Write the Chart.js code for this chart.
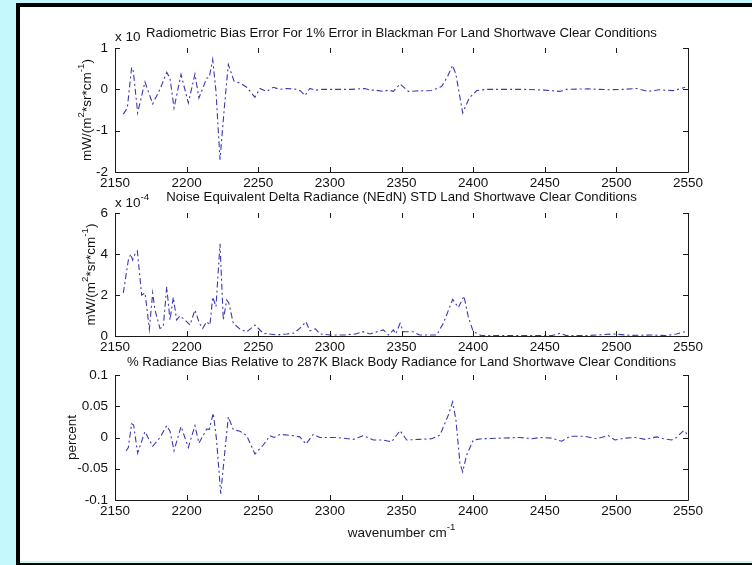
<!DOCTYPE html>
<html>
<head>
<meta charset="utf-8">
<script src="https://cdn.jsdelivr.net/npm/chart.js@4.4.1/dist/chart.umd.min.js"></script>
<style>
  html, body { margin: 0; padding: 0; }
  body { width: 752px; height: 565px; background: #c4f8fc; position: relative; overflow: hidden; }
  #frame { position: absolute; left: 16px; top: 3px; width: 736px; height: 558px; background: #fff;
           border-left: 4px solid #000; border-top: 4px solid #000; box-sizing: border-box; }
  #edgeB { position: absolute; left: 16px; top: 563px; width: 736px; height: 2px; background: #000; }
  #edgeL { position: absolute; left: 16px; top: 561px; width: 4px; height: 2px; background: #000; }
  canvas { position: absolute; left: 0; }
</style>
</head>
<body>
<div id="frame"></div>
<div id="edgeL"></div>
<div id="edgeB"></div>
<canvas id="bias" width="752" height="194" style="top:3px"></canvas>
<canvas id="nedn" width="752" height="193" style="top:168px"></canvas>
<canvas id="pct" width="752" height="230" style="top:330px"></canvas>
<script>
// x ticks shared by all three panels
const xTickLabels = ['2150', '2200', '2250', '2300', '2350', '2400', '2450', '2500', '2550'];

// panel 1: radiometric bias error (axis units, x 10^n)
const wnBias = [2155.8, 2158.6, 2161.6, 2162.8, 2165.8, 2170.9, 2176.3, 2181.4, 2186.1, 2188.4,
  2191.2, 2196.1, 2201.2, 2205.8, 2208.6, 2214.0, 2215.8, 2218.2, 2220.5, 2223.3,
  2226.3, 2229.1, 2233.1, 2237.3, 2241.9, 2247.7, 2251.2, 2255.9, 2260.5, 2265.0,
  2270, 2276.8, 2279.5, 2282.6, 2286.0, 2290.0, 2295, 2305, 2315, 2324.5,
  2328, 2332, 2337.3, 2341, 2344.3, 2349.0, 2354.8, 2360, 2371.0, 2378.0,
  2382, 2385.7, 2388.0, 2392.7, 2397.3, 2402.5, 2409, 2420, 2435, 2450,
  2460.6, 2465, 2480, 2495, 2505, 2514, 2522, 2530, 2540, 2548];
const biasVals = [-0.6, -0.45, 0.53, 0.44, -0.57, 0.18, -0.35, 0, 0.41, 0.27,
  -0.45, 0.36, -0.33, 0.37, -0.21, 0.27, 0.29, 0.72, -0.05, -1.7,
  -0.45, 0.6, 0.2, 0.15, 0.05, -0.19, 0.02, -0.05, 0.05, 0,
  0.02, 0, -0.04, -0.15, 0.02, -0.02, 0, 0, 0, 0.02,
  -0.02, -0.02, -0.05, -0.02, -0.05, 0.13, -0.05, -0.04, -0.03, 0.07,
  0.3, 0.58, 0.36, -0.57, -0.21, -0.03, 0, 0, 0, -0.02,
  -0.05, 0, 0.01, -0.01, 0, 0.02, -0.05, -0.01, -0.03, 0.05];
const biasTickLabels = ['-2', '-1', '0', '1'];

// panel 2: NEdN std (x 10^-4)
const wnNedn = [2155.8, 2159.3, 2161.0, 2162.3, 2164.0, 2165.6, 2168.6, 2171.0, 2174.0, 2176.3,
  2177.9, 2181.4, 2183.7, 2186.1, 2188.4, 2190.7, 2193.0, 2195.4, 2198.9, 2202.4,
  2205.8, 2208.9, 2211.2, 2214.0, 2216.3, 2218.2, 2220.5, 2223.3, 2225.6, 2228.0,
  2229.5, 2232.6, 2237.3, 2242.0, 2247.7, 2253.5, 2258, 2263, 2270, 2275,
  2279, 2283.3, 2286, 2290, 2293, 2300, 2310, 2318, 2323, 2328,
  2337.3, 2341, 2344.3, 2346, 2349, 2351.3, 2358, 2362.6, 2374.5, 2379.2,
  2385.7, 2389.7, 2393.6, 2396.6, 2400.1, 2405.8, 2420, 2440, 2455, 2460.6,
  2465, 2480, 2498, 2510, 2525, 2535, 2542, 2548];
const nednVals = [2.1, 3.7, 4.0, 3.7, 4.0, 4.15, 2.0, 2.1, 0.33, 2.1,
  1.27, 0.37, 0.45, 2.4, 0.78, 1.89, 0.78, 0.98, 0.78, 0.54,
  1.27, 0.62, 0.37, 0.7, 0.54, 1.9, 1.43, 4.5, 0.78, 1.76,
  1.6, 0.62, 0.33, 0.2, 0.54, 0.13, 0.1, 0.05, 0.1, 0.15,
  0.37, 0.7, 0.25, 0.35, 0.1, 0.05, 0.05, 0.1, 0.21, 0.1,
  0.3, 0.05, 0.3, 0.1, 0.62, 0.21, 0.21, 0.05, 0.05, 0.62,
  1.78, 1.39, 1.95, 0.94, 0.21, 0.02, 0.02, 0.02, 0.02, 0.13,
  0.02, 0.02, 0.1, 0.03, 0.05, 0.02, 0.1, 0.21];
const nednTickLabels = ['0', '2', '4', '6'];

// panel 3: % radiance bias relative to 287K black body
const wnPct = [2157.7, 2159.3, 2161.6, 2163.0, 2165.8, 2170.9, 2176.3, 2181.4, 2186.1, 2188.4,
  2191.2, 2196.1, 2201.2, 2205.8, 2208.6, 2214.0, 2215.8, 2218.6, 2220.9, 2223.8,
  2226.1, 2229.1, 2232.6, 2237.3, 2241.9, 2247.7, 2253.5, 2258.2, 2261, 2265.2,
  2274.5, 2279, 2283.3, 2288.4, 2293, 2305, 2316.4, 2323.4, 2330.4, 2337.3,
  2343.1, 2349.0, 2353.6, 2362, 2371.0, 2376.9, 2382.7, 2385.7, 2388.0, 2390.8,
  2392.7, 2395.5, 2400.1, 2406, 2420, 2432.5, 2441, 2446.7, 2455, 2461.8,
  2467.6, 2478, 2486.2, 2494.4, 2499, 2506, 2513, 2520, 2528, 2533,
  2538.5, 2541.9, 2546.9, 2549.2];
const pctVals = [-0.0215, -0.016, 0.022, 0.02, -0.025, 0.0095, -0.014, 0, 0.019, 0.01,
  -0.021, 0.0175, -0.016, 0.019, -0.009, 0.0135, 0.013, 0.039, -0.004, -0.09,
  -0.036, 0.033, 0.0125, 0.01, 0.003, -0.0265, -0.012, 0.003, 0.0, 0.005,
  0.003, 0.001, -0.0105, 0.005, 0, 0, -0.003, 0.003, -0.004, -0.004,
  -0.007, 0.011, -0.004, -0.003, -0.002, 0.004, 0.036, 0.057, 0.028, -0.041,
  -0.055, -0.028, -0.004, -0.002, -0.001, 0, -0.002, 0, -0.001, -0.006,
  0.002, 0.002, -0.002, 0.003, -0.004, -0.001, 0, -0.003, 0.001, -0.002,
  -0.004, 0, 0.011, 0.006];
const pctTickLabels = ['-0.1', '-0.05', '0', '0.05', '0.1'];

const FONT = '"Liberation Sans", Arial, sans-serif';
const TEXT = '#111';
const LINE = 'rgba(36, 36, 168, 0.9)';
const TICK_SIZE = 13.5;
const TITLE_SIZE = 13.2;

// draws text with superscript pieces, parts = [[text, isSup], ...]
function drawRich(ctx, parts, x, y, size, align) {
  const widths = parts.map(([t, sup]) => {
    ctx.font = (sup ? size * 0.72 : size) + 'px ' + FONT;
    return ctx.measureText(t).width;
  });
  const total = widths.reduce((a, b) => a + b, 0);
  let cx = align === 'center' ? x - total / 2 : x;
  ctx.textAlign = 'left';
  ctx.textBaseline = 'middle';
  parts.forEach(([t, sup], i) => {
    ctx.font = (sup ? size * 0.72 : size) + 'px ' + FONT;
    ctx.fillText(t, cx, sup ? y - size * 0.45 : y);
    cx += widths[i];
  });
}

// matlab style box, inward ticks and the texts round each axes
const matlabAxes = {
  id: 'matlabAxes',
  afterDraw(chart, args, o) {
    const { ctx, chartArea: a, scales: { x, y } } = chart;
    ctx.save();
    ctx.strokeStyle = '#1a1a1a';
    ctx.lineWidth = 1;
    ctx.beginPath();
    ctx.moveTo(a.left + 0.5, a.top);
    ctx.lineTo(a.left + 0.5, a.bottom + 0.5);
    ctx.lineTo(a.right + 0.5, a.bottom + 0.5);
    ctx.lineTo(a.right + 0.5, a.top);
    ctx.stroke();

    ctx.beginPath();
    x.ticks.forEach(t => {
      const px = Math.round(x.getPixelForValue(t.value)) + 0.5;
      ctx.moveTo(px, a.bottom); ctx.lineTo(px, a.bottom - 5);
      ctx.moveTo(px, a.top); ctx.lineTo(px, a.top + 5);
    });
    y.ticks.forEach(t => {
      const py = Math.round(y.getPixelForValue(t.value)) + 0.5;
      ctx.moveTo(a.left, py); ctx.lineTo(a.left + 5, py);
      ctx.moveTo(a.right, py); ctx.lineTo(a.right - 5, py);
    });
    ctx.stroke();

    ctx.fillStyle = TEXT;
    const cx = (a.left + a.right) / 2;
    drawRich(ctx, [[o.title, false]], cx, o.titleY, TITLE_SIZE, 'center');
    if (o.exp) drawRich(ctx, o.exp, a.left, o.expY, TICK_SIZE, 'left');

    ctx.save();
    ctx.translate(o.yLabelX, (a.top + a.bottom) / 2);
    ctx.rotate(-Math.PI / 2);
    drawRich(ctx, o.yLabel, 0, 0, TICK_SIZE, 'center');
    ctx.restore();

    if (o.xLabel) drawRich(ctx, o.xLabel, cx, o.xLabelY, TICK_SIZE, 'center');
    ctx.restore();
  }
};

function makePanel(id, xs, ys, yMin, yMax, yStep, yLabels, deco) {
  const pts = xs.map((v, i) => ({ x: v, y: ys[i] }));
  return new Chart(document.getElementById(id), {
    type: 'line',
    data: {
      datasets: [{
        data: pts,
        borderColor: LINE,
        borderWidth: 1.1,
        borderDash: [6, 3, 2, 3],
        pointRadius: 0,
        tension: 0,
        fill: false
      }]
    },
    options: {
      responsive: false,
      animation: false,
      devicePixelRatio: 1,
      layout: { padding: { left: 0, right: 64, top: deco.padTop, bottom: 0 } },
      plugins: {
        legend: { display: false },
        tooltip: { enabled: false },
        matlabAxes: deco
      },
      scales: {
        x: {
          type: 'linear', min: 2150, max: 2550,
          grid: { display: false, drawTicks: false },
          border: { display: false },
          ticks: {
            stepSize: 50, autoSkip: false, maxRotation: 0, padding: 3,
            color: TEXT, font: { family: FONT, size: TICK_SIZE },
            callback: (v, i) => xTickLabels[i]
          },
          afterFit: s => { s.height = deco.xHeight; }
        },
        y: {
          type: 'linear', min: yMin, max: yMax,
          grid: { display: false, drawTicks: false },
          border: { display: false },
          ticks: {
            stepSize: yStep, padding: 7,
            color: TEXT, font: { family: FONT, size: TICK_SIZE },
            callback: (v, i) => yLabels[i]
          },
          afterFit: s => { s.width = 115; }
        }
      }
    },
    plugins: [matlabAxes]
  });
}

const unitLabel = [['mW/(m', false], ['2', true], ['*sr*cm', false], ['-1', true], [')', false]];

makePanel('bias', wnBias, biasVals, -2, 1, 1, biasTickLabels, {
  padTop: 45, xHeight: 25,
  title: 'Radiometric Bias Error For 1% Error in Blackman For Land Shortwave Clear Conditions',
  titleY: 30, exp: [['x 10', false]], expY: 34,
  yLabel: unitLabel, yLabelX: 87
});

makePanel('nedn', wnNedn, nednVals, 0, 6, 2, nednTickLabels, {
  padTop: 45, xHeight: 25,
  title: 'Noise Equivalent Delta Radiance (NEdN) STD Land Shortwave Clear Conditions',
  titleY: 29, exp: [['x 10', false], ['-4', true]], expY: 35,
  yLabel: unitLabel, yLabelX: 91
});

makePanel('pct', wnPct, pctVals, -0.1, 0.1, 0.05, pctTickLabels, {
  padTop: 45, xHeight: 60,
  title: '% Radiance Bias Relative to 287K Black Body Radiance for Land Shortwave Clear Conditions',
  titleY: 32,
  yLabel: [['percent', false]], yLabelX: 72,
  xLabel: [['wavenumber cm', false], ['-1', true]], xLabelY: 203
});
</script>
</body>
</html>
